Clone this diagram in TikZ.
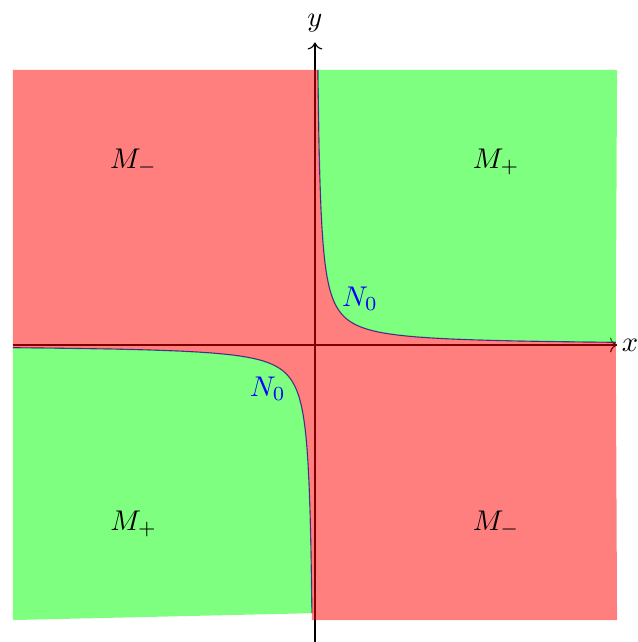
\documentclass[tikz,border=0pt]{standalone}
\usepackage{amsmath}
\usetikzlibrary{arrows.meta}

\begin{document}
\begin{tikzpicture}[
			x=106pt, y=96.5pt,
			axis/.style={->},
			curve/.style={blue, smooth},
			minus/.style={fill=red, fill opacity=0.5},
			plus/.style={fill=green, fill opacity=0.5},
			]
			
			\useasboundingbox (-1.0425,-1.0798) rectangle (1.0689,1.2544);
			
			\coordinate (xl) at (-1,0);
			\coordinate (xr) at (1,0);
			\coordinate (yb) at (0,-1.08);
			\coordinate (yt) at (0,1.10);
			
			% axes
			\draw[axis] (xl) -- (xr) node[right, inner sep=1.5pt] (xlab) {$x$};
			\draw[axis] (yb) -- (yt) node[above] (ylab) {$y$};
			
			% N_0 = {xy = 0.01}
			\draw[curve] plot[domain=-2:0, samples=200, variable=\t] ({pow(10,\t)},{pow(10,-2-\t)});
			\draw[curve] plot[domain=0:-1.9889, samples=200, variable=\t] ({-pow(10,\t)},{-pow(10,-2-\t)});
			
			% regions
			\fill[plus] (0.01,1) -- plot[domain=-2:0, samples=200, variable=\t] ({pow(10,\t)},{pow(10,-2-\t)}) -- (1,1) -- cycle;
			\fill[plus] (-1,-1) -- (-1,-0.01) -- plot[domain=0:-1.9889, samples=200, variable=\t] ({-pow(10,\t)},{-pow(10,-2-\t)}) -- cycle;
			\fill[minus] (-1,1) -- (0.01,1) -- plot[domain=-2:0, samples=200, variable=\t] ({pow(10,\t)},{pow(10,-2-\t)}) -- (1,-1) -- (-0.01026,-1) -- plot[domain=-1.9889:0, samples=200, variable=\t] ({-pow(10,\t)},{-pow(10,-2-\t)}) -- cycle;
			
			\node (mtl) at (-0.6,0.665) {$M_-$};
			\node (mtr) at (0.6,0.665) {$M_+$};
			\node (mbl) at (-0.6,-0.65) {$M_+$};
			\node (mbr) at (0.6,-0.65) {$M_-$};
			
			\node[blue] (nup) at (0.149,0.167) {$N_0$};
			\node[blue] (ndn) at (-0.156,-0.16) {$N_0$};
			
		\end{tikzpicture}
\end{document}
